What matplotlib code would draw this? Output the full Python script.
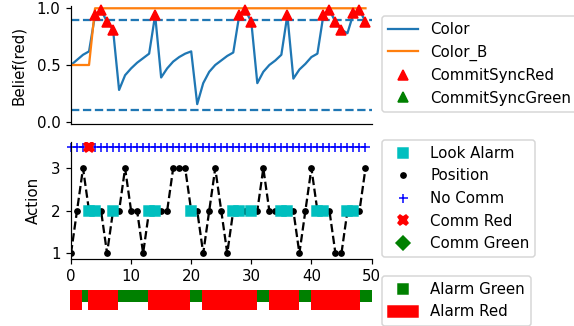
import matplotlib
matplotlib.use("Agg")
import matplotlib.pyplot as plt
from matplotlib.lines import Line2D
from matplotlib.patches import Patch

# ---------------- data ----------------
steps = list(range(50))
belief_color = [0.50, 0.545, 0.59, 0.62, 0.94, 0.985, 0.88, 0.81, 0.28, 0.41,
                0.47, 0.52, 0.56, 0.60, 0.94, 0.39, 0.47, 0.53, 0.57, 0.60,
                0.62, 0.155, 0.34, 0.44, 0.50, 0.54, 0.58, 0.61, 0.94, 0.985,
                0.88, 0.34, 0.44, 0.50, 0.54, 0.59, 0.94, 0.38, 0.46, 0.51,
                0.57, 0.60, 0.94, 0.985, 0.88, 0.81, 0.78, 0.955, 0.985, 0.88]
belief_color_b = [0.5, 0.5, 0.5, 0.5] + [1.0] * 46
commit_red_steps = [4, 5, 6, 7, 14, 28, 29, 30, 36, 42, 43, 44, 45, 47, 48, 49]
commit_green_steps = []
thresholds = [0.9, 0.1]

position = [1, 2, 3, 2, 2, 2, 1, 2, 2, 3,
            2, 2, 1, 2, 2, 2, 2, 3, 3, 3,
            2, 2, 1, 2, 3, 2, 1, 2, 2, 2,
            2, 2, 3, 2, 2, 2, 2, 2, 1, 2,
            3, 2, 2, 2, 1, 1, 2, 2, 2, 3]
look_alarm_steps = [3, 4, 7, 13, 14, 20, 27, 28, 30, 35, 36, 41, 42, 46, 47]
look_alarm_level = 2
comm_red_steps = [3]
comm_green_steps = []
comm_level = 3.5
no_comm_steps = [s for s in steps if s not in comm_red_steps + comm_green_steps]

alarm = ['R', 'R', 'G', 'R', 'R', 'R', 'R', 'R', 'G', 'G',
         'G', 'G', 'G', 'R', 'R', 'R', 'R', 'R', 'R', 'R',
         'G', 'G', 'R', 'R', 'R', 'R', 'R', 'R', 'R', 'R',
         'R', 'G', 'G', 'R', 'R', 'R', 'R', 'R', 'G', 'G',
         'R', 'R', 'R', 'R', 'R', 'R', 'R', 'R', 'G', 'G']
xticks = [0, 10, 20, 30, 40, 50]

# ---------------- figure ----------------
W, H = 574, 326
DPI = 108
fig = plt.figure(figsize=(W / DPI, H / DPI), dpi=DPI)

def px_axes(left, top, right, bottom):
    return fig.add_axes([left / W, 1 - bottom / H, (right - left) / W, (bottom - top) / H])

ax1 = px_axes(71, 6, 371.5, 124)
ax2 = px_axes(71, 141.7, 371.5, 258.6)
ax3 = px_axes(69.5, 290, 371.7, 310)

# top panel
ax1.plot(steps, belief_color, color='C0', label='Color')
ax1.plot(steps, belief_color_b, color='C1', label='Color_B')
for t in thresholds:
    ax1.axhline(t, color='C0', linestyle='--', linewidth=1.5)
ax1.plot(commit_red_steps, [belief_color[s] for s in commit_red_steps], 'r^',
         markersize=6.5, linestyle='none', label='CommitSyncRed', clip_on=False)
ax1.plot(commit_green_steps, [belief_color[s] for s in commit_green_steps], 'g^',
         markersize=6.5, linestyle='none', label='CommitSyncGreen')
ax1.set_xlim(0, 50)
ax1.set_ylim(-0.02, 1.02)
ax1.set_yticks([0.0, 0.5, 1.0])
ax1.set_ylabel('Belief(red)', labelpad=7)
ax1.tick_params(axis='x', bottom=False, labelbottom=False)
for s in ['top', 'right']:
    ax1.spines[s].set_visible(False)
ax1.legend(loc='upper left', bbox_to_anchor=(382 / W, 1 - 16 / H),
           bbox_transform=fig.transFigure, borderaxespad=0)

# middle panel
ax2.plot(look_alarm_steps, [look_alarm_level] * len(look_alarm_steps), 's',
         color='c', markersize=6.5, linestyle='none', label='Look Alarm', zorder=3)
ax2.plot(steps, position, 'k--', marker='o', markersize=3.5, label='_nolegend_', zorder=2)
pos_handle = Line2D([], [], color='k', marker='o', markersize=3.5, linestyle='none')
ax2.plot(no_comm_steps, [comm_level] * len(no_comm_steps), 'b+', markersize=6,
         label='No Comm', clip_on=False)
ax2.plot(comm_red_steps, [comm_level] * len(comm_red_steps), 'rX', markersize=7,
         label='Comm Red')
ax2.plot(comm_green_steps, [comm_level] * len(comm_green_steps), 'gD', markersize=7,
         label='Comm Green')
ax2.set_xlim(0, 50)
ax2.set_ylim(0.875, 3.625)
ax2.set_yticks([1, 2, 3])
ax2.set_xticks(xticks)
ax2.set_ylabel('Action', labelpad=7)
for s in ['top', 'right']:
    ax2.spines[s].set_visible(False)
h, l = ax2.get_legend_handles_labels()
h.insert(1, pos_handle)
l.insert(1, 'Position')
ax2.legend(h, l, loc='upper left', bbox_to_anchor=(382 / W, 1 - 140 / H),
           bbox_transform=fig.transFigure, borderaxespad=0)

# bottom panel: alarm state
green_x = [s for s, a in zip(steps, alarm) if a == 'G']
red_x = [s for s, a in zip(steps, alarm) if a == 'R']
ax3.bar(green_x, [0.585] * len(green_x), width=1.0, color='g', linewidth=0)
ax3.bar(red_x, [1.0] * len(red_x), width=1.0, color='r', linewidth=0)
ax3.set_xlim(-0.5, 49.5)
ax3.set_ylim(1, 0)
ax3.axis('off')
ax3.legend([Line2D([], [], color='g', marker='s', markersize=7, linestyle='none'),
            Patch(color='r')], ['Alarm Green', 'Alarm Red'],
           loc='upper left', bbox_to_anchor=(382 / W, 1 - 276 / H),
           bbox_transform=fig.transFigure, borderaxespad=0)

fig.savefig('out.png', dpi=DPI)
